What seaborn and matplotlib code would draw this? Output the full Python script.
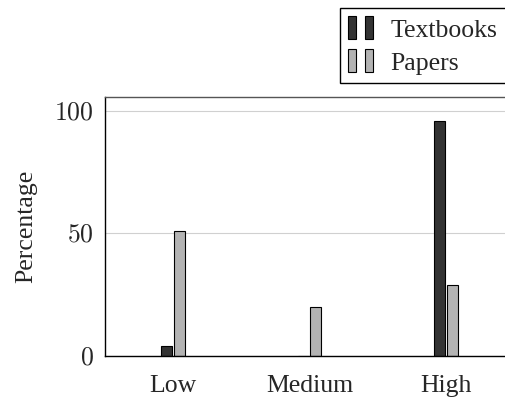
import numpy as np
import pandas as pd
import matplotlib
matplotlib.use("Agg")
import matplotlib.pyplot as plt
import seaborn as sns
from matplotlib.patches import Rectangle
from matplotlib.legend_handler import HandlerTuple

# data
levels = ["Low", "Medium", "High"]
textbooks = [4, 0, 96]
papers = [51, 20, 29]
series_names = ["Textbooks", "Papers"]
y_ticks = [0, 50, 100]

dark = "#333333"
light = "#b3b3b3"

df = pd.DataFrame({
    "level": levels * 2,
    "source": [series_names[0]] * 3 + [series_names[1]] * 3,
    "value": textbooks + papers,
})

sns.set_style("white")
plt.rcParams["font.family"] = ["Liberation Serif", "DejaVu Serif"]
plt.rcParams["mathtext.fontset"] = "cm"

fig = plt.figure(figsize=(5.06, 4.04), dpi=100)
ax = fig.add_axes([104.7 / 506, 1 - 356 / 404, 409.3 / 506, 258.7 / 404])

sns.barplot(data=df, x="level", y="value", hue="source", order=levels,
            hue_order=series_names, palette=[dark, light], width=0.184,
            gap=0.13, edgecolor="black", linewidth=0.8, saturation=1,
            legend=False, ax=ax)

ax.set_xlim(-0.5, 2.5)
ax.set_ylim(0, 105.5)
ax.set_yticks(y_ticks)
ax.set_yticklabels([f"${v}$" for v in y_ticks])
ax.yaxis.grid(True, color="#d0d0d0", linewidth=0.8)
ax.set_axisbelow(True)
ax.tick_params(axis="y", direction="in", length=4, color="#aaaaaa",
               labelsize=18.5, pad=8)
ax.tick_params(axis="x", length=0, labelsize=18.5, pad=14)
ax.set_xlabel("")
ax.set_ylabel("Percentage", fontsize=18.5, labelpad=12)
for side in ["left", "bottom"]:
    ax.spines[side].set_color("black")
    ax.spines[side].set_linewidth(1.0)
ax.spines["top"].set_color("#555555")
ax.spines["top"].set_linewidth(1.0)
ax.spines["right"].set_visible(False)

# legend with the two-bar icon of pgfplots
h1 = (Rectangle((0, 0), 1, 1, fc=dark, ec="black", lw=0.8),
      Rectangle((0, 0), 1, 1, fc=dark, ec="black", lw=0.8))
h2 = (Rectangle((0, 0), 1, 1, fc=light, ec="black", lw=0.8),
      Rectangle((0, 0), 1, 1, fc=light, ec="black", lw=0.8))
leg = fig.legend([h1, h2], series_names,
                 handler_map={tuple: HandlerTuple(ndivide=None, pad=0.35)},
                 loc="upper left", bbox_to_anchor=(340 / 506, 1 - 8 / 404),
                 fontsize=18.5, frameon=True, fancybox=False, framealpha=1,
                 edgecolor="black", borderaxespad=0, borderpad=0.32,
                 handlelength=0.95, handleheight=1.0, handletextpad=0.7,
                 labelspacing=0.3)
leg.get_frame().set_linewidth(1.0)

fig.savefig("out.png", dpi=100)
